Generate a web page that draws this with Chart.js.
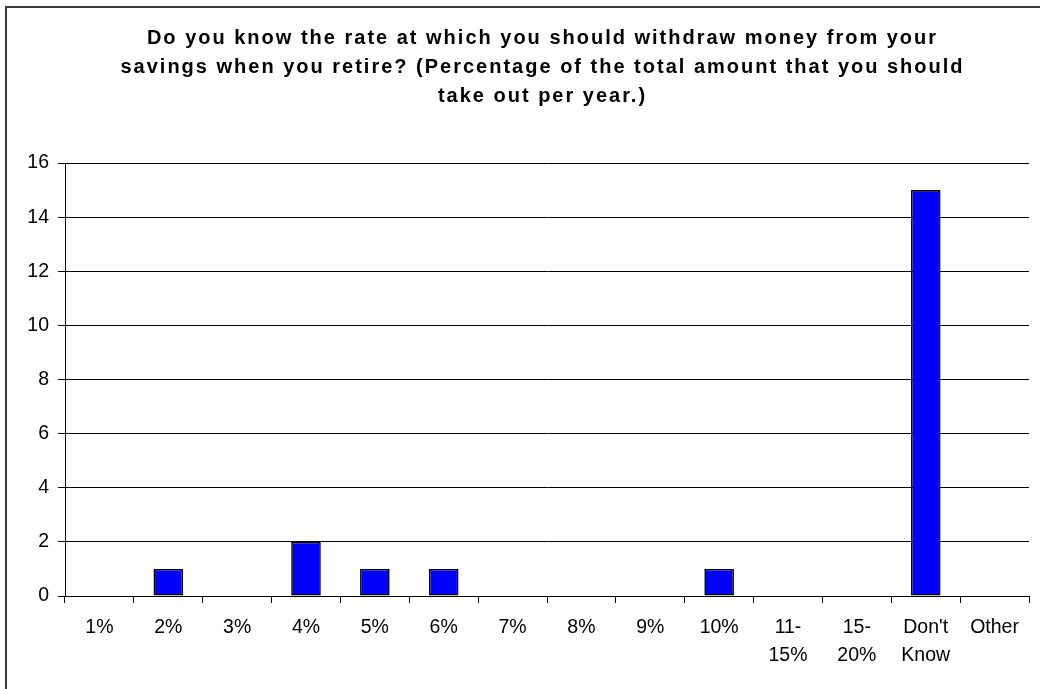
<!DOCTYPE html>
<html>
<head>
<meta charset="utf-8">
<script src="https://cdn.jsdelivr.net/npm/chart.js@4.4.1/dist/chart.umd.min.js"></script>
<style>
    html, body { margin: 0; padding: 0; background: #fff; overflow: hidden; }
    #wrap { position: relative; width: 1040px; height: 689px; }
    #frame {
        position: absolute; left: 5px; top: 6px; right: -20px; bottom: -20px;
        border-left: 2px solid #3a3a3a; border-top: 2px solid #3a3a3a;
        pointer-events: none;
    }
</style>
</head>
<body>
<div id="wrap">
    <canvas id="chartWithdrawRate"></canvas>
    <div id="frame"></div>
</div>
<script>
/* Datos */

const rates = ['1%', '2%', '3%', '4%', '5%', '6%', '7%', '8%', '9%', '10%',
    ['11-', '15%'], ['15-', '20%'], ["Don't", 'Know'], 'Other'];
const answers = [0, 1, 0, 2, 1, 1, 0, 0, 0, 1, 0, 0, 15, 0];
const yTicks = [0, 2, 4, 6, 8, 10, 12, 14, 16];

const titleLines = [
    'Do you know the rate at which you should withdraw money from your',
    'savings when you retire? (Percentage of the total amount that you should',
    'take out per year.)',
];

const fontFamily = "'Liberation Sans', Arial, sans-serif";

/* Titulo espaciado */

const spacedTitle = {
    id: 'spacedTitle',
    beforeDraw: (chart) => {
        const tb = chart.titleBlock;
        if (!tb || tb._spaced) return;
        const draw = tb.draw.bind(tb);
        tb.draw = function () {
            const ctx = chart.ctx;
            ctx.save();
            ctx.letterSpacing = '2px';
            ctx.translate(28, 0);
            draw();
            ctx.restore();
        };
        tb._spaced = true;
    },
};

const cwr = document.getElementById('chartWithdrawRate');
const chartWithdrawRate = new Chart(cwr, {
    type: 'bar',
    data: {
        labels: rates,
        datasets: [{
            data: answers,
            backgroundColor: '#0000ff',
            borderColor: '#000000',
            borderWidth: 1.6,
            borderSkipped: false,
            barPercentage: 0.43,
            categoryPercentage: 1,
        }, ],
    },
    options: {
        responsive: true,
        maintainAspectRatio: false,
        animation: false,
        layout: {
            padding: { left: 0, right: 11, top: 0, bottom: 0 },
        },
        scales: {
            x: {
                offset: true,
                grid: {
                    offset: true,
                    drawOnChartArea: false,
                    color: '#000',
                    tickLength: 7,
                    tickColor: '#000',
                },
                border: { color: '#000', width: 1 },
                ticks: {
                    color: '#000',
                    padding: 11,
                    maxRotation: 0,
                    autoSkip: false,
                    font: { family: fontFamily, size: 19.5, lineHeight: 1.44 },
                },
                afterFit: (scale) => { scale.height = 93; },
            },
            y: {
                min: 0,
                max: 16,
                afterBuildTicks: (scale) => {
                    scale.ticks = yTicks.map((v) => ({ value: v }));
                },
                grid: {
                    color: '#000',
                    tickLength: 7,
                    tickColor: '#000',
                },
                border: { color: '#000', width: 1 },
                ticks: {
                    color: '#000',
                    padding: 9,
                    font: { family: fontFamily, size: 19.5 },
                },
                afterFit: (scale) => { scale.width = 65; },
            },
        },
        plugins: {
            legend: {
                display: false,
            },
            tooltip: { enabled: false },
            title: {
                display: true,
                text: titleLines,
                color: '#000',
                font: { family: fontFamily, size: 20, weight: 'bold', lineHeight: 1.45 },
                padding: { top: 24, bottom: 52 },
            },
        },
    },
    plugins: [spacedTitle],
});
</script>
</body>
</html>
